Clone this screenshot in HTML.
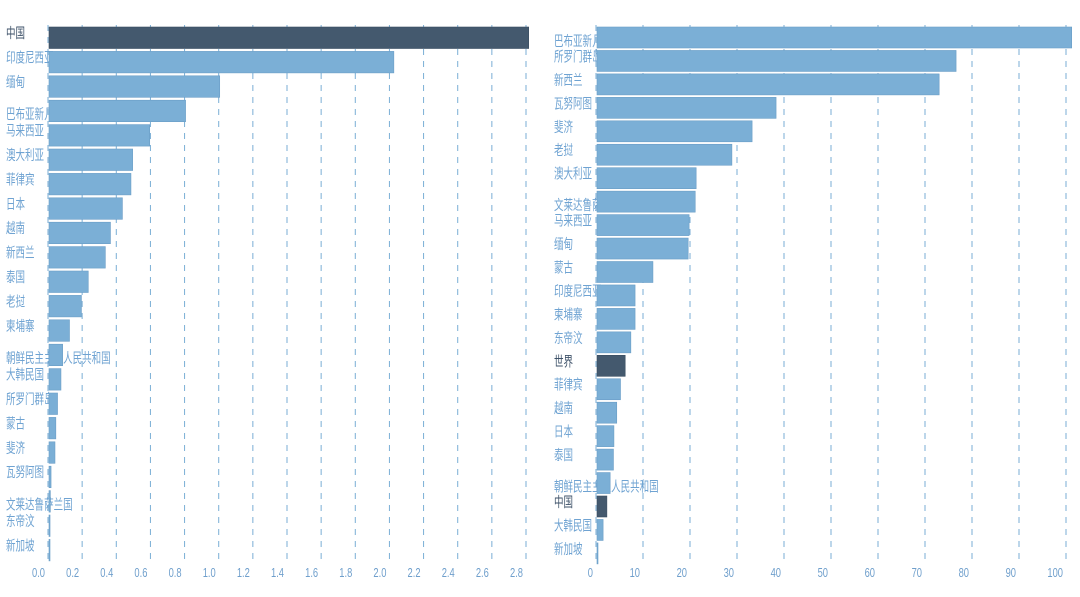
<!DOCTYPE html>
<html><head><meta charset="utf-8">
<style>
html,body{margin:0;padding:0;background:#fff;width:1080px;height:597px;overflow:hidden}
svg{display:block}
text{font-family:"Liberation Sans","Noto Sans CJK SC",sans-serif}
</style></head>
<body>
<svg id="chart" width="1080" height="597" viewBox="0 0 1080 597" xmlns="http://www.w3.org/2000/svg"></svg>
<script>
const leftCategories = ["中国","印度尼西亚","缅甸","巴布亚新几内亚","马来西亚","澳大利亚","菲律宾","日本","越南","新西兰","泰国","老挝","柬埔寨","朝鲜民主主义人民共和国","大韩民国","所罗门群岛","蒙古","斐济","瓦努阿图","文莱达鲁萨兰国","东帝汶","新加坡"];
const leftValues = [2.81,2.02,1.00,0.80,0.59,0.49,0.48,0.43,0.36,0.33,0.23,0.19,0.12,0.08,0.07,0.05,0.04,0.035,0.012,0.008,0.006,0.005];
const leftTicks = ["0.0","0.2","0.4","0.6","0.8","1.0","1.2","1.4","1.6","1.8","2.0","2.2","2.4","2.6","2.8"];
const leftTickValues = [0,0.2,0.4,0.6,0.8,1.0,1.2,1.4,1.6,1.8,2.0,2.2,2.4,2.6,2.8];

const rightCategories = ["巴布亚新几内亚","所罗门群岛","新西兰","瓦努阿图","斐济","老挝","澳大利亚","文莱达鲁萨兰国","马来西亚","缅甸","蒙古","印度尼西亚","柬埔寨","东帝汶","世界","菲律宾","越南","日本","泰国","朝鲜民主主义人民共和国","中国","大韩民国","新加坡"];
const rightValues = [101,76.4,72.8,38.1,33.0,28.7,21.1,20.9,19.6,19.4,11.9,8.1,8.1,7.2,6.0,5.0,4.2,3.6,3.5,2.8,2.1,1.3,0.1];
const rightTicks = ["0","10","20","30","40","50","60","70","80","90","100"];
const rightTickValues = [0,10,20,30,40,50,60,70,80,90,100];
const highlight = ["中国","世界"];

const NS="http://www.w3.org/2000/svg";
const svg=document.getElementById('chart');
function mk(tag,attrs,parent){const e=document.createElementNS(NS,tag);for(const k in attrs)e.setAttribute(k,attrs[k]);(parent||svg).appendChild(e);return e;}

function drawChart(cfg){
  const g=mk('g',{});
  
  
  const x=v=>cfg.x0+(v-cfg.min)*(cfg.x1-cfg.x0)/(cfg.max-cfg.min);
  const y=i=>cfg.top+i*cfg.pitch;
  cfg.tickValues.forEach((tv,i)=>{
    const gl=mk('line',{x1:x(tv),x2:x(tv),y1:cfg.top-2,y2:cfg.bottom,stroke:'#7aaed6','stroke-width':1,'stroke-dasharray':'6,6'},g);
    
    
    const tx=x(tv)-3;
    const t=mk('text',{x:tx,y:cfg.bottom+12,'text-anchor':'end','font-size':13,fill:'#6f9fcc',transform:`translate(${tx},0) scale(0.72,1) translate(${-tx},0)`},g);
    t.textContent=cfg.ticks[i];
    
    
  });
  cfg.categories.forEach((c,i)=>{
    const hl=highlight.includes(c);
    const long=c.length>=6;
    const ty=y(i)+(long?19:11);
    const t=mk('text',{x:cfg.labelX,y:ty,'font-size':14,fill:hl?'#3d5168':'#6fa3d2',transform:`translate(${cfg.labelX},0) scale(0.68,1) translate(${-cfg.labelX},0)`},g);
    t.textContent=c;
    
    
  });
  cfg.values.forEach((v,i)=>{
    const hl=highlight.includes(cfg.categories[i]);
    const w=Math.max(1,x(v)-x(0));
    const r=mk('rect',{x:x(0)+1,y:y(i),width:w,height:cfg.bh,fill:hl?'#44596e':'#7bafd6',stroke:hl?'#3a4e62':'#6a9dc6','stroke-width':0.6},g);
    
    
  });
}

drawChart({name:'left-chart',categories:leftCategories,values:leftValues,ticks:leftTicks,tickValues:leftTickValues,
  min:0,max:2.8,x0:48,x1:526,top:27,pitch:24.4,bh:21.5,bottom:565,labelX:6});
drawChart({name:'right-chart',categories:rightCategories,values:rightValues,ticks:rightTicks,tickValues:rightTickValues,
  min:0,max:100,x0:596,x1:1066,top:27,pitch:23.45,bh:21,bottom:565,labelX:554});
</script>
</body></html>
